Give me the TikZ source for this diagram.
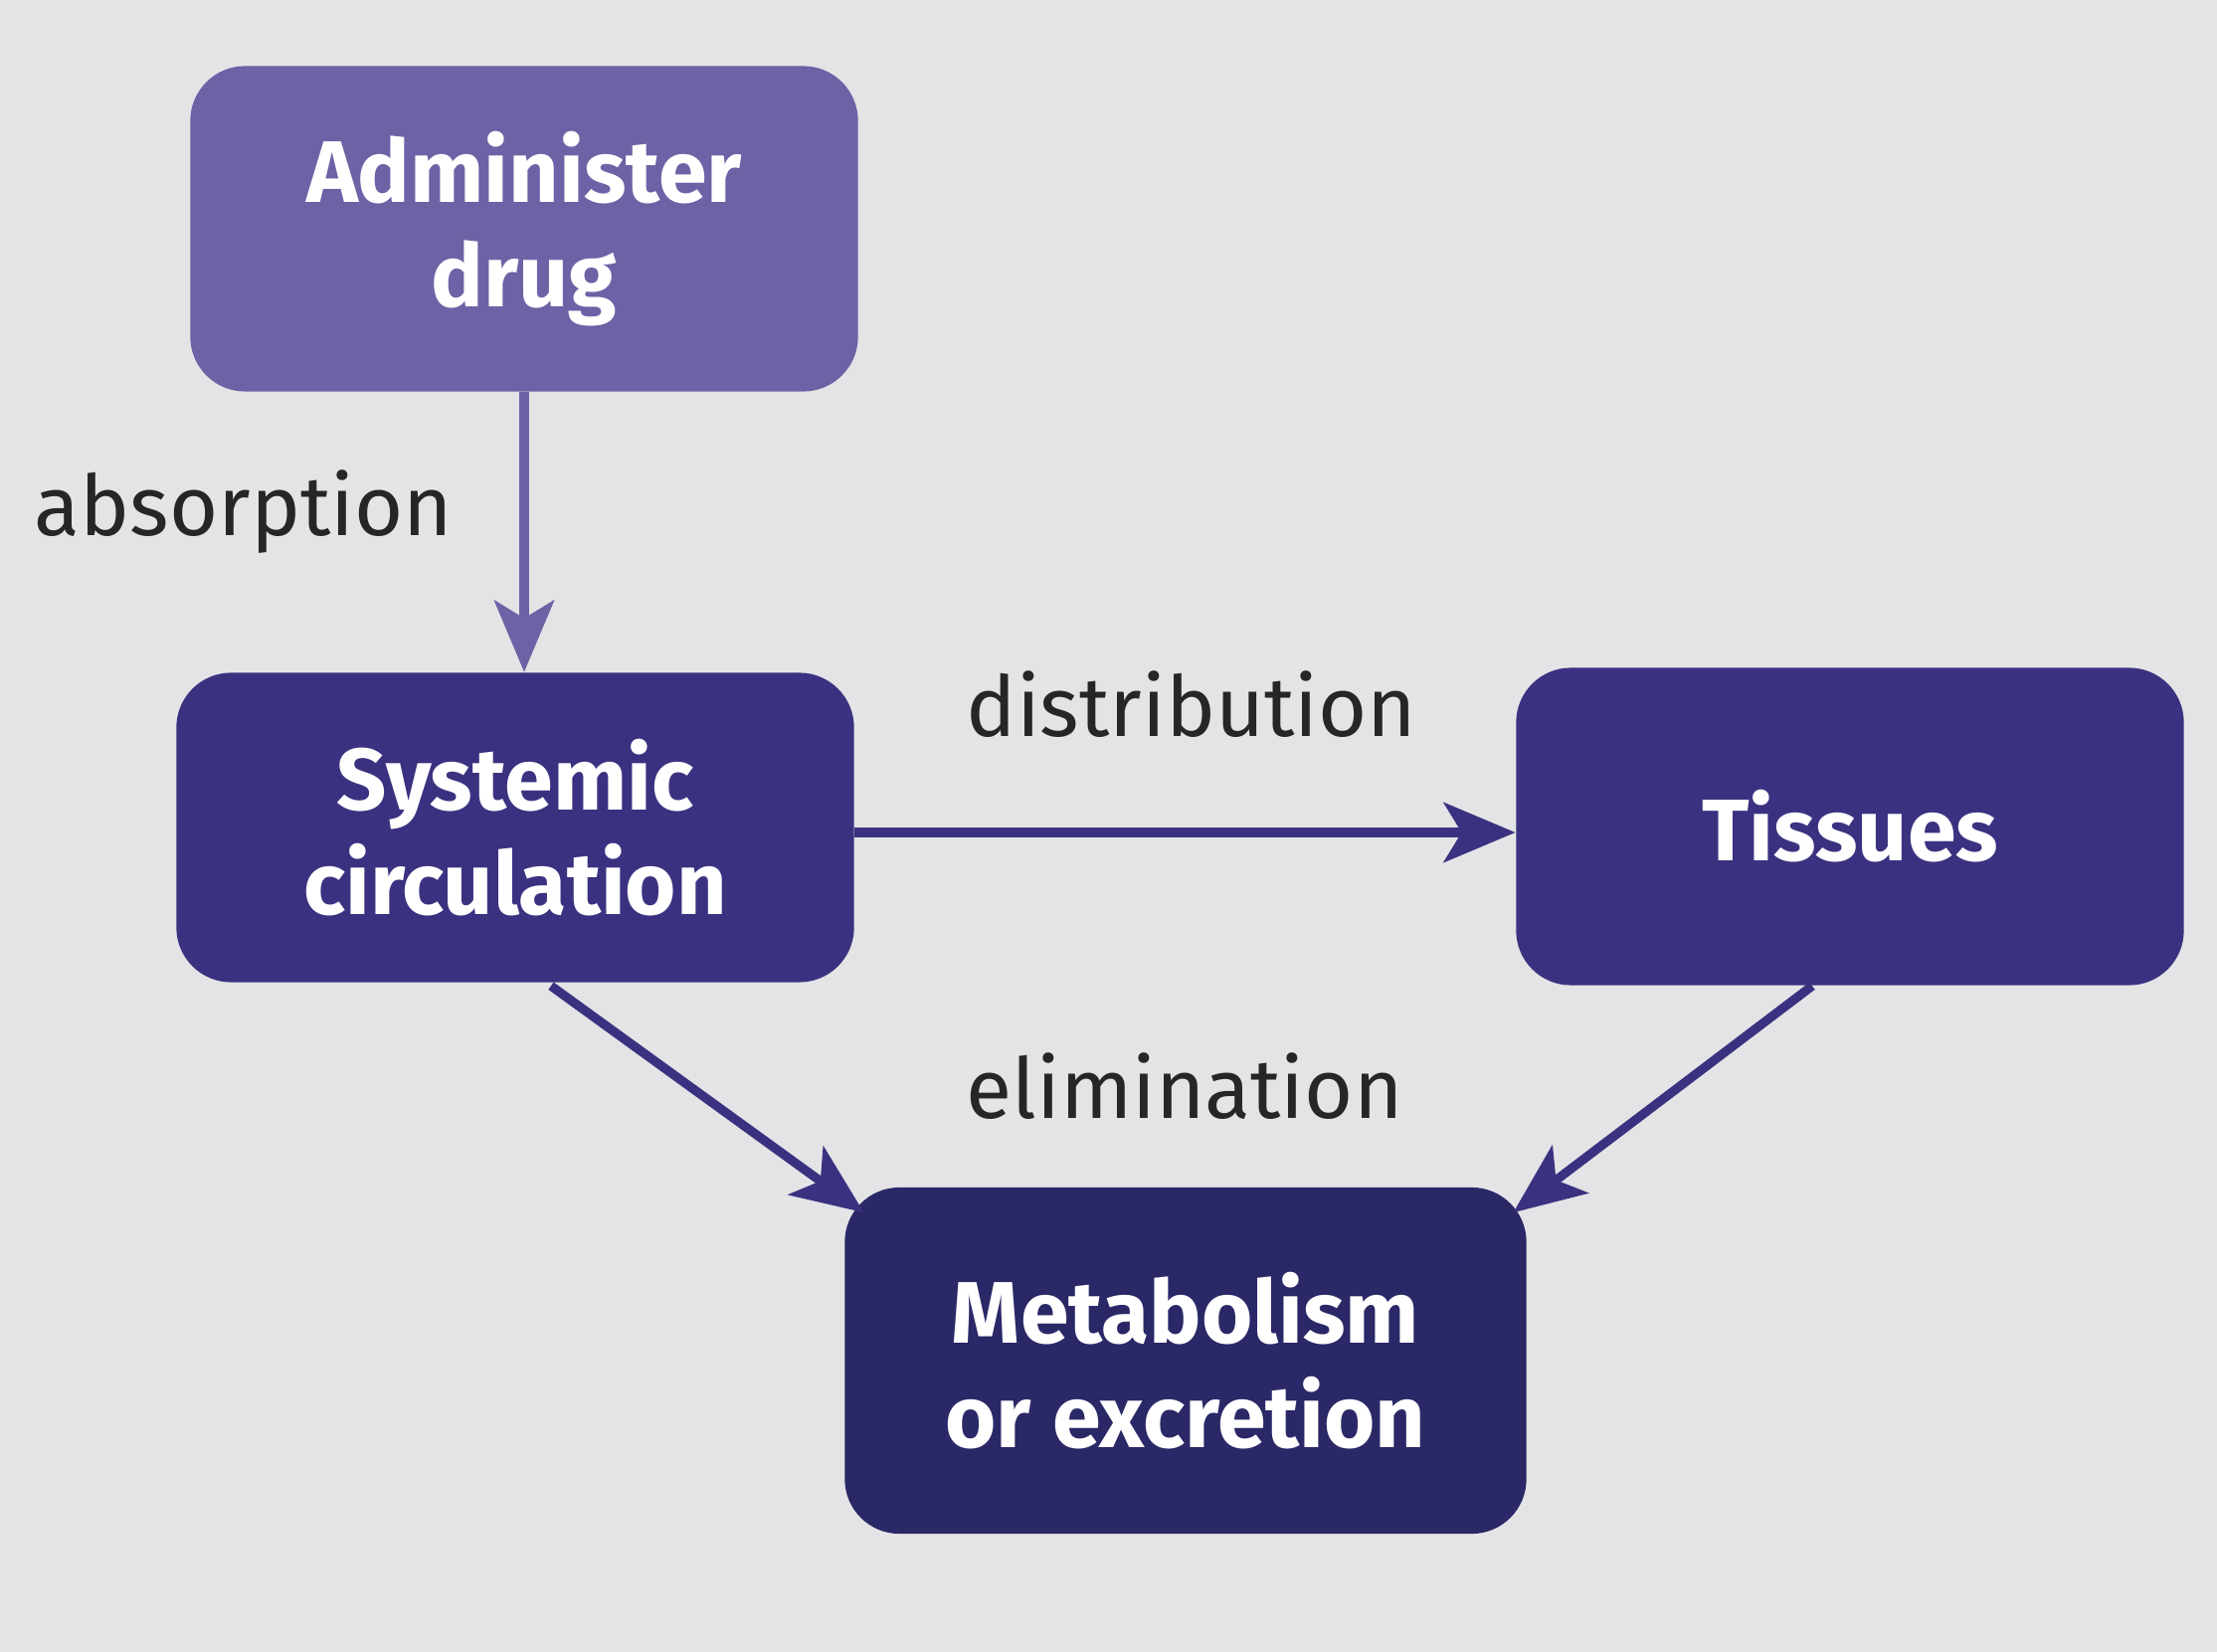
\documentclass[tikz,border=0pt]{standalone}
\usepackage{fontspec}
\setmainfont{Fira Sans}
\usetikzlibrary{arrows.meta,calc}
\definecolor{bgc}{RGB}{228,228,230}
\definecolor{lightbox}{RGB}{110,98,166}
\definecolor{midbox}{RGB}{58,50,128}
\definecolor{darkbox}{RGB}{42,40,102}
\begin{document}
\begin{tikzpicture}[x=0.01cm,y=-0.01cm,
  boxstyle/.style={rectangle, rounded corners=5.5mm, inner sep=0pt, align=center,
    text=white, font=\fontsize{25}{30}\selectfont\bfseries},
  lbl/.style={font=\fontsize{24}{30}\selectfont, text=black!85},
  arr/.style={line width=2.6pt, -{Stealth[length=7.2mm,width=6mm,inset=1.8mm]}}]
\fill[bgc] (0,0) rectangle (2229,1661);
\useasboundingbox (0,0) rectangle (2229,1661);
\node[boxstyle, fill=lightbox, minimum width=67.1mm, minimum height=32.7mm] (adm) at (527,230) {Administer\\drug};
\node[boxstyle, fill=midbox, minimum width=68.1mm, minimum height=31.1mm] (sys) at (518,832) {Systemic\\circulation};
\node[boxstyle, fill=midbox, minimum width=67.1mm, minimum height=31.9mm] (tis) at (1860,831) {Tissues};
\node[boxstyle, fill=darkbox, minimum width=68.5mm, minimum height=34.8mm] (met) at (1192,1368) {Metabolism\\or excretion};
\node[lbl] (labs) at (245,515) {absorption};
\node[lbl] (ldis) at (1198,708) {distribution};
\node[lbl] (lel) at (1191,1092) {elimination};
\draw[arr, color=lightbox] (adm.south) -- (adm.south |- sys.north);
\draw[arr, color=midbox] ($(sys.east)+(0,5)$) -- ($(tis.west)+(0,6)$);
\draw[arr, color=midbox] ($(sys.south)+(36,3)$) -- ($(met.north west)+(20,26)$);
\draw[arr, color=midbox] ($(tis.south)+(-38,0)$) -- ($(met.north east)+(-14,26)$);
\end{tikzpicture}
\end{document}
